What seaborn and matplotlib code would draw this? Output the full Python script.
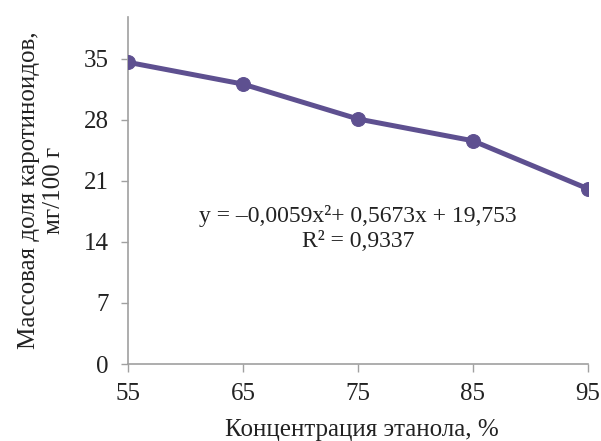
import matplotlib
matplotlib.use("Agg")
import matplotlib.pyplot as plt
import seaborn as sns
import pandas as pd

concentration = [55, 65, 75, 85, 95]
carotenoids = [34.6, 32.1, 28.1, 25.6, 20.1]
yticks = [0, 7, 14, 21, 28, 35]
xticks = [55, 65, 75, 85, 95]

sns.set_theme(style="white")
plt.rcParams['font.family'] = ['Liberation Serif', 'DejaVu Serif']

df = pd.DataFrame({"x": concentration, "y": carotenoids})
fig = plt.figure(figsize=(6.01, 4.41), dpi=100)
ax = fig.add_axes([0.213, 0.1746, 0.765, 0.787])
color = "#5E5090"
sns.lineplot(data=df, x="x", y="y", ax=ax, color=color, lw=3.6,
             marker="o", markersize=10, markeredgecolor=color, markerfacecolor=color)
ax.set_xlim(55, 95)
ax.set_ylim(0, 39.8)
ax.set_xticks(xticks)
ax.set_yticks(yticks)
ax.tick_params(axis="both", labelsize=18, colors="#222222", length=5, width=1,
               direction="out")
ax.tick_params(axis="both", color="#A0A0A0", bottom=True, left=True)
ax.tick_params(axis="x", pad=8, length=6)
ax.tick_params(axis="y", pad=9)
for s in ["top", "right"]:
    ax.spines[s].set_visible(False)
for s in ["left", "bottom"]:
    ax.spines[s].set_color("#A0A0A0")
    ax.spines[s].set_linewidth(1.2)
ax.set_xlabel("Концентрация этанола, %", fontsize=18, color="#222222")
ax.set_ylabel("Массовая доля каротиноидов,\nмг/100 г", fontsize=18, color="#222222",
              linespacing=1.2)
ax.xaxis.label.set_va("center")
ax.xaxis.set_label_coords(0.509, -0.19)
ax.yaxis.label.set_va("center")
ax.yaxis.set_label_coords(-0.188, 0.5)
for sp in ax.spines.values():
    sp.set_zorder(0)
ax.text(75.0, 15.5, "y = –0,0059x²+ 0,5673x + 19,753\nR² = 0,9337",
        ha="center", va="center", fontsize=17, color="#222222", linespacing=1.25)
fig.savefig("out.png", dpi=100)
